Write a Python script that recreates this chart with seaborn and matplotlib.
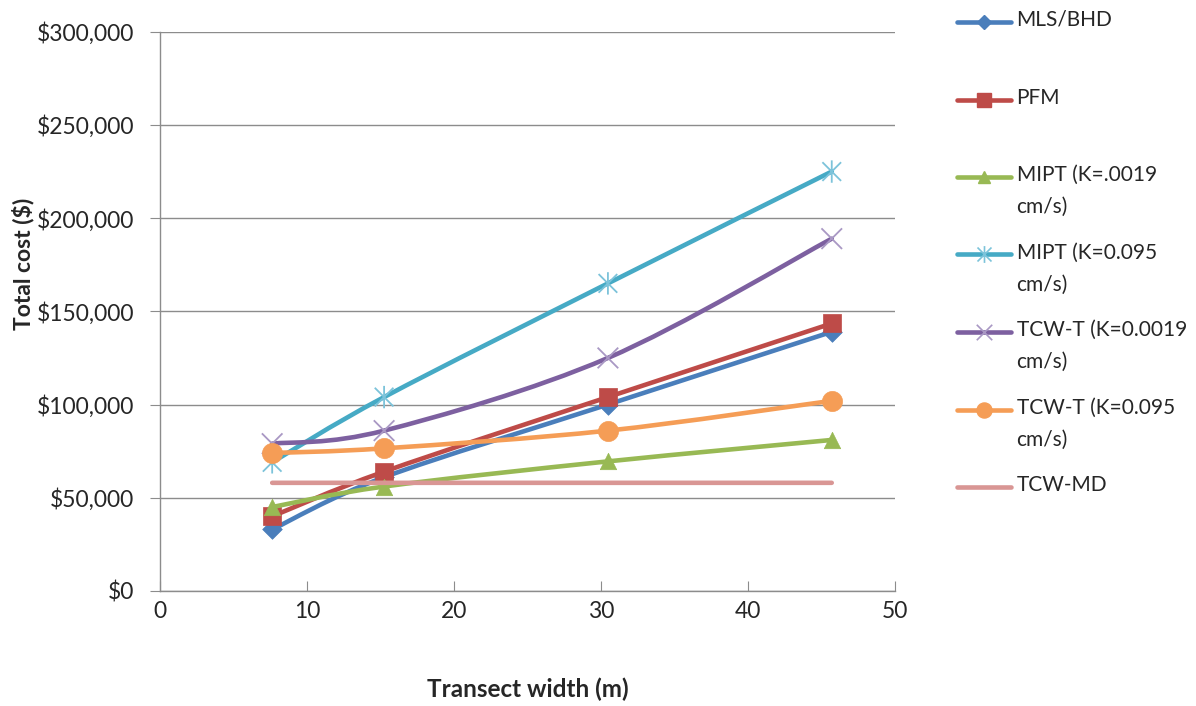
import numpy as np
import pandas as pd
import matplotlib
matplotlib.use('Agg')
import matplotlib.pyplot as plt
from matplotlib.path import Path
from matplotlib.patches import PathPatch
from matplotlib.lines import Line2D
from matplotlib.ticker import FuncFormatter
import seaborn as sns

# Transect widths (m) and total costs ($)
widths = [7.62, 15.24, 30.48, 45.72]
mls_bhd = [33000, 61000, 100000, 139000]
pfm = [40000, 64000, 104000, 143500]
mipt_low = [45000, 56000, 69500, 81000]
mipt_high = [69000, 104000, 165000, 225000]
tcwt_low = [79000, 86000, 125000, 189000]
tcwt_high = [74000, 76500, 86000, 102000]
tcw_md = [58000, 58000, 58000, 58000]

labels = ['MLS/BHD', 'PFM', 'MIPT (K=.0019\ncm/s)', 'MIPT (K=0.095\ncm/s)',
          'TCW-T (K=0.0019\ncm/s)', 'TCW-T (K=0.095\ncm/s)', 'TCW-MD']
series = [mls_bhd, pfm, mipt_low, mipt_high, tcwt_low, tcwt_high, tcw_md]
colors = ['#4A7EBB', '#BE4B48', '#98B954', '#46AAC5', '#7D60A0', '#F59D56', '#D99694']

# asterisk marker (x with a vertical bar), like Excel's
star_path = Path([(-1, -1), (1, 1), (-1, 1), (1, -1), (0, -1.2), (0, 1.2)],
                 [Path.MOVETO, Path.LINETO, Path.MOVETO, Path.LINETO, Path.MOVETO, Path.LINETO])
x_path = Path([(-1, -1), (1, 1), (-1, 1), (1, -1)],
              [Path.MOVETO, Path.LINETO, Path.MOVETO, Path.LINETO])
markers = ['D', 's', '^', star_path, x_path, 'o', None]
sizes = [100, 160, 140, 260, 220, 210, 0]
marker_colors = ['#4A7EBB', '#BE4B48', '#98B954', '#7CC3DA', '#A998C4', '#F59D56', None]


def smooth_path(x, y):
    # Excel-style smoothed line: cubic Bezier through the points
    x = np.asarray(x, float)
    y = np.asarray(y, float)
    px = np.concatenate([[x[0]], x, [x[-1]]])
    py = np.concatenate([[y[0]], y, [y[-1]]])
    verts = [(x[0], y[0])]
    codes = [Path.MOVETO]
    for i in range(1, len(x)):
        c1 = (px[i] + (px[i + 1] - px[i - 1]) / 6, py[i] + (py[i + 1] - py[i - 1]) / 6)
        c2 = (px[i + 1] - (px[i + 2] - px[i]) / 6, py[i + 1] - (py[i + 2] - py[i]) / 6)
        verts += [c1, c2, (x[i], y[i])]
        codes += [Path.CURVE4] * 3
    return Path(verts, codes)


sns.set_style('white')
plt.rcParams['font.family'] = ['Lato', 'DejaVu Sans']

fig = plt.figure(figsize=(11.96, 7.06), dpi=100)
ax = fig.add_axes([0.134, 0.163, 0.614, 0.792])

for i, (lab, vals) in enumerate(zip(labels, series)):
    df = pd.DataFrame({'width': widths, 'cost': vals})
    ax.add_patch(PathPatch(smooth_path(df['width'], df['cost']), fill=False,
                           edgecolor=colors[i], lw=3.3, zorder=3 + 2 * i,
                           capstyle='round', joinstyle='round'))
    if markers[i] is None:
        continue
    if markers[i] in (star_path, x_path):
        sns.scatterplot(data=df, x='width', y='cost', marker=markers[i], s=sizes[i],
                        facecolor='none', edgecolor=marker_colors[i], linewidth=1.3,
                        zorder=4 + 2 * i, ax=ax)
    else:
        sns.scatterplot(data=df, x='width', y='cost', marker=markers[i], s=sizes[i],
                        color=marker_colors[i], edgecolor=marker_colors[i], linewidth=0.5,
                        zorder=4 + 2 * i, ax=ax)

ax.set_xlim(0, 50)
ax.set_ylim(0, 300000)
ax.set_xticks(np.arange(0, 51, 10))
ax.set_yticks(np.arange(0, 300001, 50000))
ax.yaxis.set_major_formatter(FuncFormatter(lambda v, p: f'${v:,.0f}'))
ax.yaxis.grid(True, color='#8C8C8C', lw=1.0)
ax.set_axisbelow(True)
for s in ['top', 'right']:
    ax.spines[s].set_visible(False)
for s in ['left', 'bottom']:
    ax.spines[s].set_color('#8C8C8C')
    ax.spines[s].set_linewidth(1.0)
ax.tick_params(axis='y', direction='out', length=7, color='#8C8C8C', labelsize=16.5,
               labelcolor='#262626', pad=12, left=True)
ax.tick_params(axis='x', direction='in', length=7, color='#8C8C8C', labelsize=16.5,
               labelcolor='#262626', pad=7, bottom=True)
ax.set_xlabel('Transect width (m)', fontsize=17.5, fontweight='bold')
ax.set_ylabel('Total cost ($)', fontsize=16.5, fontweight='bold')
ax.xaxis.set_label_coords(0.5, -0.155)
ax.yaxis.set_label_coords(-0.172, 0.585)

# legend drawn Excel style: entries in fixed slots, handle level with first line
leg_x0, leg_x1, text_x = 0.800, 0.845, 0.850
top_y, step = 1 - 22 / 706, 77.5 / 706
for i, lab in enumerate(labels):
    yy = top_y - i * step
    fig.add_artist(Line2D([leg_x0, leg_x1], [yy, yy], transform=fig.transFigure,
                          color=colors[i], lw=3.3))
    if markers[i] is not None:
        ms = np.sqrt(sizes[i]) * 0.75
        if markers[i] in (star_path, x_path):
            fig.add_artist(Line2D([(leg_x0 + leg_x1) / 2], [yy], transform=fig.transFigure,
                                  marker=markers[i], markersize=ms, markerfacecolor='none',
                                  markeredgecolor=marker_colors[i], markeredgewidth=1.2, lw=0))
        else:
            fig.add_artist(Line2D([(leg_x0 + leg_x1) / 2], [yy], transform=fig.transFigure,
                                  marker=markers[i], markersize=ms, color=marker_colors[i], lw=0))
    fig.text(text_x, yy + 12 / 706, lab, fontsize=15, va='top', ha='left',
             color='#262626', linespacing=1.75)

fig.savefig('out.png', dpi=100)
